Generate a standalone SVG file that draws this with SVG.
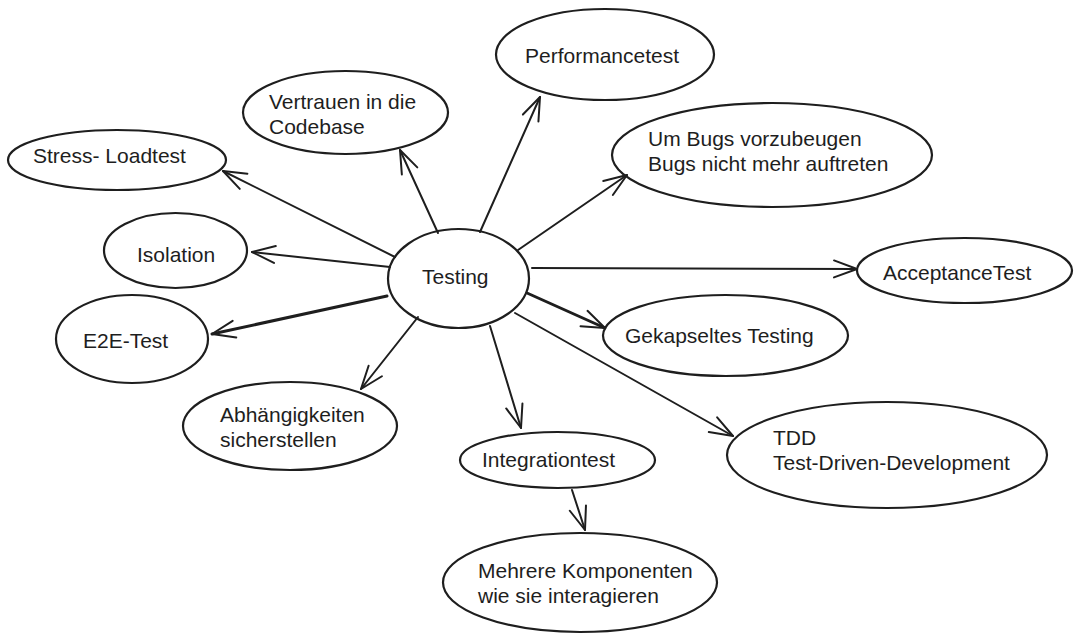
<svg xmlns="http://www.w3.org/2000/svg" width="1081" height="640" viewBox="0 0 1081 640">
  <defs>
    <style>
      .node ellipse { fill: none; stroke: #1e1e1e; stroke-width: 2.2; }
      .node text { font-family: "Liberation Sans", Arial, sans-serif; font-size: 21px; fill: #1e1e1e; }
      .edge { fill: none; stroke: #1e1e1e; stroke-width: 2; stroke-linecap: round; marker-end: url(#arrow); }
      .edge.thick { stroke-width: 3; }
    </style>
    <marker id="arrow" markerUnits="userSpaceOnUse" markerWidth="40" markerHeight="40" viewBox="-30 -20 40 40" refX="0" refY="0" orient="auto" overflow="visible">
      <path d="M -23 -8.5 L 0 0 L -23 8.5" fill="none" stroke="#1e1e1e" stroke-width="2" stroke-linecap="round" stroke-linejoin="round"/>
    </marker>
  </defs>
  <rect width="1081" height="640" fill="#ffffff"/>

  <g id="connectors">
    <path class="edge" d="M 480 232 L 540 97"/>
    <path class="edge" d="M 438 233 L 400 150"/>
    <path class="edge" d="M 395 257 L 223 171"/>
    <path class="edge" d="M 390 267 L 252 252"/>
    <path class="edge thick" d="M 387 296 L 212 334"/>
    <path class="edge" d="M 418 317 L 361 389"/>
    <path class="edge" d="M 490 326 L 521 428"/>
    <path class="edge" d="M 515 313 L 733 436"/>
    <path class="edge thick" d="M 527 293 L 605 328"/>
    <path class="edge" d="M 532 268 L 857 269"/>
    <path class="edge" d="M 518 250 L 627 175"/>
    <path class="edge" d="M 572 490 L 585 530"/>
  </g>

  <g id="performancetest" class="node">
    <ellipse cx="605" cy="54.5" rx="109" ry="45.5"/>
    <text x="525" y="63">Performancetest</text>
  </g>
  <g id="vertrauen" class="node">
    <ellipse cx="345.5" cy="112.5" rx="102.5" ry="41.5"/>
    <text x="269" y="109">Vertrauen in die</text>
    <text x="269" y="134">Codebase</text>
  </g>
  <g id="stress" class="node">
    <ellipse cx="117" cy="160" rx="109" ry="30"/>
    <text x="33" y="163">Stress- Loadtest</text>
  </g>
  <g id="bugs" class="node">
    <ellipse cx="772" cy="155" rx="160" ry="52"/>
    <text x="648" y="146">Um Bugs vorzubeugen</text>
    <text x="648" y="171">Bugs nicht mehr auftreten</text>
  </g>
  <g id="isolation" class="node">
    <ellipse cx="175.5" cy="250.5" rx="71.5" ry="37.5"/>
    <text x="137" y="262">Isolation</text>
  </g>
  <g id="testing" class="node">
    <ellipse cx="458.5" cy="278.5" rx="70.5" ry="49.5"/>
    <text x="422" y="284">Testing</text>
  </g>
  <g id="acceptance" class="node">
    <ellipse cx="964.5" cy="270.5" rx="107.5" ry="32.5"/>
    <text x="883" y="280">AcceptanceTest</text>
  </g>
  <g id="e2e" class="node">
    <ellipse cx="132" cy="339" rx="76" ry="44"/>
    <text x="83" y="348">E2E-Test</text>
  </g>
  <g id="gekapseltes" class="node">
    <ellipse cx="725.5" cy="335.5" rx="122.5" ry="40.5"/>
    <text x="625" y="343">Gekapseltes Testing</text>
  </g>
  <g id="abhaengigkeiten" class="node">
    <ellipse cx="290" cy="426" rx="107" ry="44"/>
    <text x="220" y="422">Abhängigkeiten</text>
    <text x="220" y="447">sicherstellen</text>
  </g>
  <g id="integrationtest" class="node">
    <ellipse cx="557.5" cy="460" rx="97.5" ry="28"/>
    <text x="482" y="467">Integrationtest</text>
  </g>
  <g id="tdd" class="node">
    <ellipse cx="887" cy="455" rx="160" ry="53"/>
    <text x="773" y="445">TDD</text>
    <text x="773" y="470">Test-Driven-Development</text>
  </g>
  <g id="mehrere" class="node">
    <ellipse cx="580" cy="582.5" rx="137" ry="49.5"/>
    <text x="478" y="578">Mehrere Komponenten</text>
    <text x="478" y="603">wie sie interagieren</text>
  </g>
</svg>
